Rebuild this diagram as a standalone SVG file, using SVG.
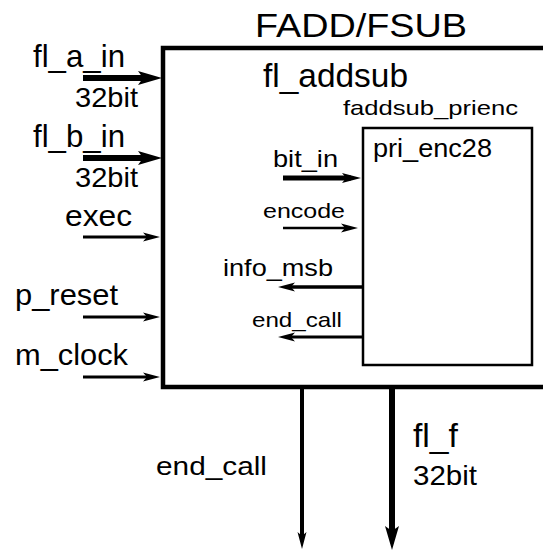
<svg xmlns="http://www.w3.org/2000/svg" width="543" height="552" viewBox="0 0 543 552">
<style>
text{font-family:"Liberation Sans","Noto Sans CJK JP",Arial,sans-serif;fill:#000}
.box{fill:#fff;stroke:#000}
.w{stroke:#000;fill:none}
</style>
<defs>
<marker id="hL" markerUnits="userSpaceOnUse" markerWidth="26" markerHeight="16" refX="12" refY="7" orient="auto" overflow="visible"><path d="M0,0 L24,7 L0,14 L5,7 z" fill="#000"/></marker>
<marker id="hM" markerUnits="userSpaceOnUse" markerWidth="20" markerHeight="12" refX="9" refY="5" orient="auto" overflow="visible"><path d="M0,0 L19,5 L0,10 L4,5 z" fill="#000"/></marker>
<marker id="hS" markerUnits="userSpaceOnUse" markerWidth="18" markerHeight="10" refX="9" refY="4.5" orient="auto" overflow="visible"><path d="M0,0 L17,4.5 L0,9 L4,4.5 z" fill="#000"/></marker>
</defs>
<rect width="543" height="552" fill="#fff"/>
<g id="fadd_fsub">
<rect class="box" x="163" y="48" width="420" height="339" stroke-width="4.5"/>
<text x="255" y="37" font-size="34" textLength="212" lengthAdjust="spacingAndGlyphs">FADD/FSUB</text>
<text x="263" y="87" font-size="34" textLength="145" lengthAdjust="spacingAndGlyphs">fl_addsub</text>
</g>
<g id="faddsub_prienc">
<rect class="box" x="363" y="128" width="169" height="237" stroke-width="2.5"/>
<text x="343" y="115" font-size="21" textLength="175" lengthAdjust="spacingAndGlyphs">faddsub_prienc</text>
<text x="373" y="157" font-size="25" textLength="119" lengthAdjust="spacingAndGlyphs">pri_enc28</text>
</g>
<g id="connectors">
<line class="w" x1="83" y1="78" x2="150" y2="78" stroke-width="6" marker-end="url(#hL)"/>
<line class="w" x1="83" y1="158" x2="150" y2="158" stroke-width="6" marker-end="url(#hL)"/>
<line class="w" x1="83" y1="237" x2="152" y2="237" stroke-width="3" marker-end="url(#hS)"/>
<line class="w" x1="83" y1="317" x2="152" y2="317" stroke-width="3" marker-end="url(#hS)"/>
<line class="w" x1="83" y1="377" x2="152" y2="377" stroke-width="3" marker-end="url(#hS)"/>
<line class="w" x1="283" y1="178" x2="351" y2="178" stroke-width="5" marker-end="url(#hM)"/>
<line class="w" x1="283" y1="228" x2="350" y2="228" stroke-width="2.5" marker-end="url(#hS)"/>
<line class="w" x1="363" y1="287" x2="286" y2="287" stroke-width="3.5" marker-end="url(#hS)"/>
<line class="w" x1="363" y1="337" x2="286" y2="337" stroke-width="3" marker-end="url(#hS)"/>
<line class="w" x1="302" y1="387" x2="302" y2="541" stroke-width="4" marker-end="url(#hS)"/>
<line class="w" x1="392" y1="387" x2="392" y2="538" stroke-width="6" marker-end="url(#hL)"/>
</g>
<g id="labels">
<text x="33" y="67" font-size="32" textLength="92" lengthAdjust="spacingAndGlyphs">fl_a_in</text>
<text x="75" y="107" font-size="28" textLength="63" lengthAdjust="spacingAndGlyphs">32bit</text>
<text x="33" y="147" font-size="32" textLength="92" lengthAdjust="spacingAndGlyphs">fl_b_in</text>
<text x="75" y="187" font-size="28" textLength="63" lengthAdjust="spacingAndGlyphs">32bit</text>
<text x="65" y="226" font-size="29" textLength="67" lengthAdjust="spacingAndGlyphs">exec</text>
<text x="15" y="305" font-size="29" textLength="103" lengthAdjust="spacingAndGlyphs">p_reset</text>
<text x="15" y="365" font-size="29" textLength="113" lengthAdjust="spacingAndGlyphs">m_clock</text>
<text x="273" y="167" font-size="24" textLength="65" lengthAdjust="spacingAndGlyphs">bit_in</text>
<text x="263" y="218" font-size="20" textLength="82" lengthAdjust="spacingAndGlyphs">encode</text>
<text x="223" y="276" font-size="24" textLength="110" lengthAdjust="spacingAndGlyphs">info_msb</text>
<text x="252" y="327" font-size="21" textLength="90" lengthAdjust="spacingAndGlyphs">end_call</text>
<text x="156" y="475" font-size="26" textLength="111" lengthAdjust="spacingAndGlyphs">end_call</text>
<text x="413" y="447" font-size="33" textLength="45" lengthAdjust="spacingAndGlyphs">fl_f</text>
<text x="413" y="485" font-size="28" textLength="64" lengthAdjust="spacingAndGlyphs">32bit</text>
</g>
</svg>
